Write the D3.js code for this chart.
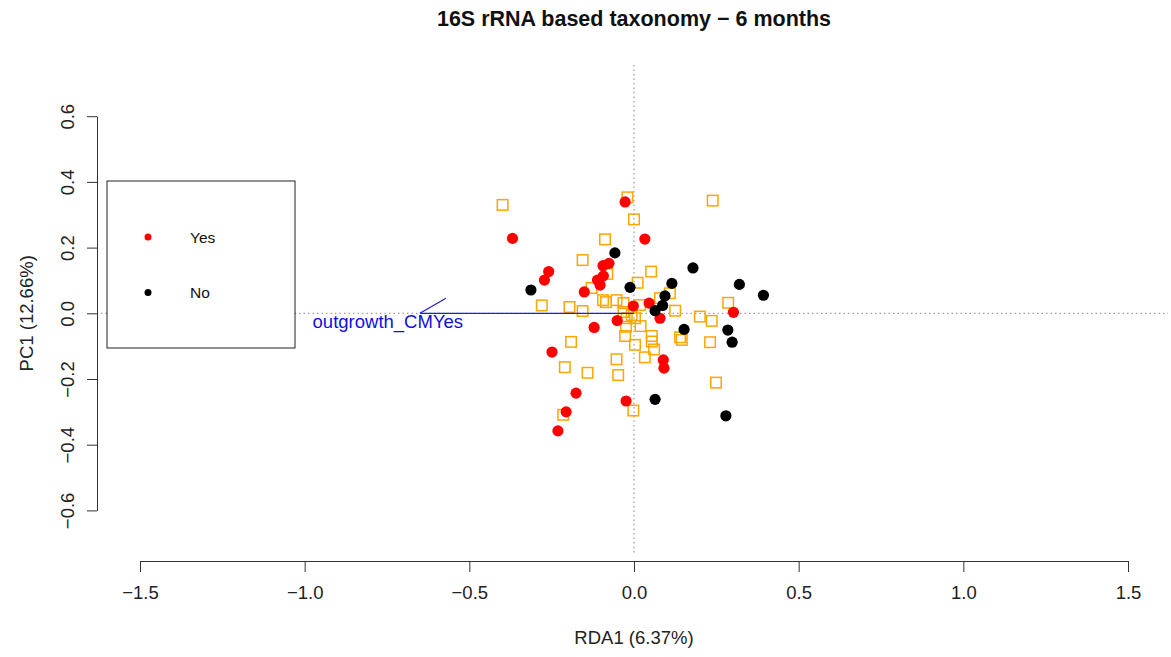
<!DOCTYPE html>
<html><head><meta charset="utf-8">
<script src="https://cdn.jsdelivr.net/npm/d3@7/dist/d3.min.js"></script>
<style>body{margin:0;background:#fff}svg{display:block;font-family:"Liberation Sans",Arial,sans-serif}</style>
</head><body>
<svg id="c" width="1171" height="657"></svg>
<script>
const title = "16S rRNA based taxonomy \u2212 6 months";
const xLabel = "RDA1 (6.37%)";
const yLabel = "PC1 (12.66%)";
const xTicks = [-1.5, -1.0, -0.5, 0.0, 0.5, 1.0, 1.5];
const yTicks = [-0.6, -0.4, -0.2, 0.0, 0.2, 0.4, 0.6];
const legendLabels = ["Yes", "No"];
const arrowName = "outgrowth_CMYes";
const arrowVec = [-0.650, 0.0];

// orange squares (species / other scores)
const squaresX = [-0.399,-0.020,0.239,0.000,-0.088,-0.156,-0.081,0.052,-0.129,0.011,0.109,-0.280,-0.196,-0.156,-0.094,-0.085,-0.053,-0.032,0.018,-0.007,-0.032,-0.022,0.003,0.125,0.200,0.236,0.286,0.020,-0.024,-0.027,0.003,0.054,0.054,0.061,0.140,0.145,0.231,-0.191,-0.210,-0.141,-0.053,0.033,-0.048,0.249,-0.002,-0.215,0.079];
const squaresY = [0.330,0.353,0.343,0.286,0.225,0.162,0.120,0.127,0.077,0.093,0.061,0.024,0.019,0.007,0.040,0.034,0.040,0.031,0.025,-0.005,0.004,-0.015,-0.015,0.008,-0.010,-0.023,0.032,-0.039,-0.041,-0.069,-0.096,-0.069,-0.086,-0.110,-0.073,-0.081,-0.088,-0.087,-0.164,-0.181,-0.140,-0.134,-0.188,-0.211,-0.296,-0.309,0.046];

// samples: outgrowth = Yes (red)
const yesX = [-0.027,-0.369,0.033,-0.259,-0.272,-0.076,-0.094,-0.093,-0.111,-0.103,-0.151,-0.121,-0.051,-0.002,0.046,0.079,0.302,-0.249,-0.176,-0.206,-0.231,-0.024,0.089,0.091];
const yesY = [0.339,0.228,0.226,0.127,0.101,0.152,0.145,0.114,0.101,0.086,0.065,-0.043,-0.022,0.022,0.031,-0.015,0.003,-0.118,-0.243,-0.300,-0.358,-0.267,-0.142,-0.167];

// samples: outgrowth = No (black)
const noX = [-0.058,-0.313,-0.012,0.115,0.179,0.094,0.087,0.064,0.152,0.320,0.393,0.285,0.298,0.064,0.279];
const noY = [0.184,0.071,0.079,0.091,0.138,0.053,0.024,0.008,-0.049,0.088,0.055,-0.051,-0.088,-0.262,-0.312];

const svg = d3.select("#c");
const x = d3.scaleLinear().domain([-1.5, 1.5]).range([140, 1128]);
const y = d3.scaleLinear().domain([-0.6, 0.6]).range([510.4, 116.2]);
const fmt = d => d3.format(".1f")(d).replace("-", "\u2212");

// title
svg.append("text").attr("x", 634).attr("y", 26).attr("text-anchor", "middle")
  .attr("font-size", 21.5).attr("font-weight", "bold").attr("fill", "#111").text(title);

// dotted reference lines
svg.append("line").attr("x1", 101).attr("x2", 1168).attr("y1", y(0)).attr("y2", y(0))
  .attr("stroke", "#888").attr("stroke-width", 1).attr("stroke-dasharray", "1.5,3");
svg.append("line").attr("x1", x(0)).attr("x2", x(0)).attr("y1", 65).attr("y2", 555)
  .attr("stroke", "#888").attr("stroke-width", 1).attr("stroke-dasharray", "1.5,3");

// x axis
const xAxis = svg.append("g").attr("transform", "translate(0,561)")
  .call(d3.axisBottom(x).tickValues(xTicks).tickFormat(fmt).tickSize(11).tickSizeOuter(0));
xAxis.select(".domain").attr("stroke", "#333");
xAxis.selectAll(".tick line").attr("stroke", "#333");
xAxis.selectAll(".tick text").attr("font-size", 18.5).attr("fill", "#222")
  .attr("y", 38).attr("dy", 0);

// y axis
const yAxis = svg.append("g").attr("transform", "translate(97,0)")
  .call(d3.axisLeft(y).tickValues(yTicks).tickFormat(fmt).tickSize(10).tickSizeOuter(0));
yAxis.select(".domain").attr("stroke", "#333");
yAxis.selectAll(".tick line").attr("stroke", "#333");
yAxis.selectAll(".tick text").remove();
yAxis.selectAll(".tick").append("text")
  .attr("transform", "translate(-23,0) rotate(-90)")
  .attr("text-anchor", "middle").attr("font-size", 18.5).attr("fill", "#222")
  .text(fmt);

// axis labels
svg.append("text").attr("x", 634).attr("y", 644).attr("text-anchor", "middle")
  .attr("font-size", 18.5).attr("fill", "#222").text(xLabel);
svg.append("text").attr("transform", `translate(33,${y(0)}) rotate(-90)`).attr("text-anchor", "middle")
  .attr("font-size", 18.5).attr("fill", "#222").text(yLabel);

// squares
const sq = 10.5;
svg.append("g").selectAll("rect").data(squaresX.map((v, i) => [v, squaresY[i]])).join("rect")
  .attr("x", d => x(d[0]) - sq / 2).attr("y", d => y(d[1]) - sq / 2)
  .attr("width", sq).attr("height", sq)
  .attr("fill", "none").attr("stroke", "#FFA500").attr("stroke-width", 1.5);

// arrow
svg.append("line").attr("x1", x(0)).attr("y1", y(0)).attr("x2", x(arrowVec[0])).attr("y2", y(arrowVec[1]))
  .attr("stroke", "#2020d0").attr("stroke-width", 1.3);
svg.append("line").attr("x1", x(arrowVec[0])).attr("y1", y(arrowVec[1]))
  .attr("x2", x(arrowVec[0]) + 26).attr("y2", y(arrowVec[1]) - 15)
  .attr("stroke", "#2020d0").attr("stroke-width", 1.3);
svg.append("text").attr("x", x(arrowVec[0] * 1.15)).attr("y", y(arrowVec[1]) + 14.5)
  .attr("text-anchor", "middle").attr("font-size", 18.5).attr("fill", "#1010e0").text(arrowName);

// points
svg.append("g").selectAll("circle").data(yesX.map((v, i) => [v, yesY[i]])).join("circle")
  .attr("cx", d => x(d[0])).attr("cy", d => y(d[1])).attr("r", 5.6).attr("fill", "#FF0000");
svg.append("g").selectAll("circle").data(noX.map((v, i) => [v, noY[i]])).join("circle")
  .attr("cx", d => x(d[0])).attr("cy", d => y(d[1])).attr("r", 5.6).attr("fill", "#000");

// legend
const lg = svg.append("g");
lg.append("rect").attr("x", 107).attr("y", 181).attr("width", 188).attr("height", 167)
  .attr("fill", "#fff").attr("stroke", "#222").attr("stroke-width", 1);
const legendColors = ["#FF0000", "#000"];
legendLabels.forEach((t, i) => {
  lg.append("circle").attr("cx", 148).attr("cy", 237 + i * 55.5).attr("r", 3.5).attr("fill", legendColors[i]);
  lg.append("text").attr("x", 190).attr("y", 237 + i * 55.5 + 5.5).attr("font-size", 15.5).attr("fill", "#111").text(t);
});
</script>
</body></html>
